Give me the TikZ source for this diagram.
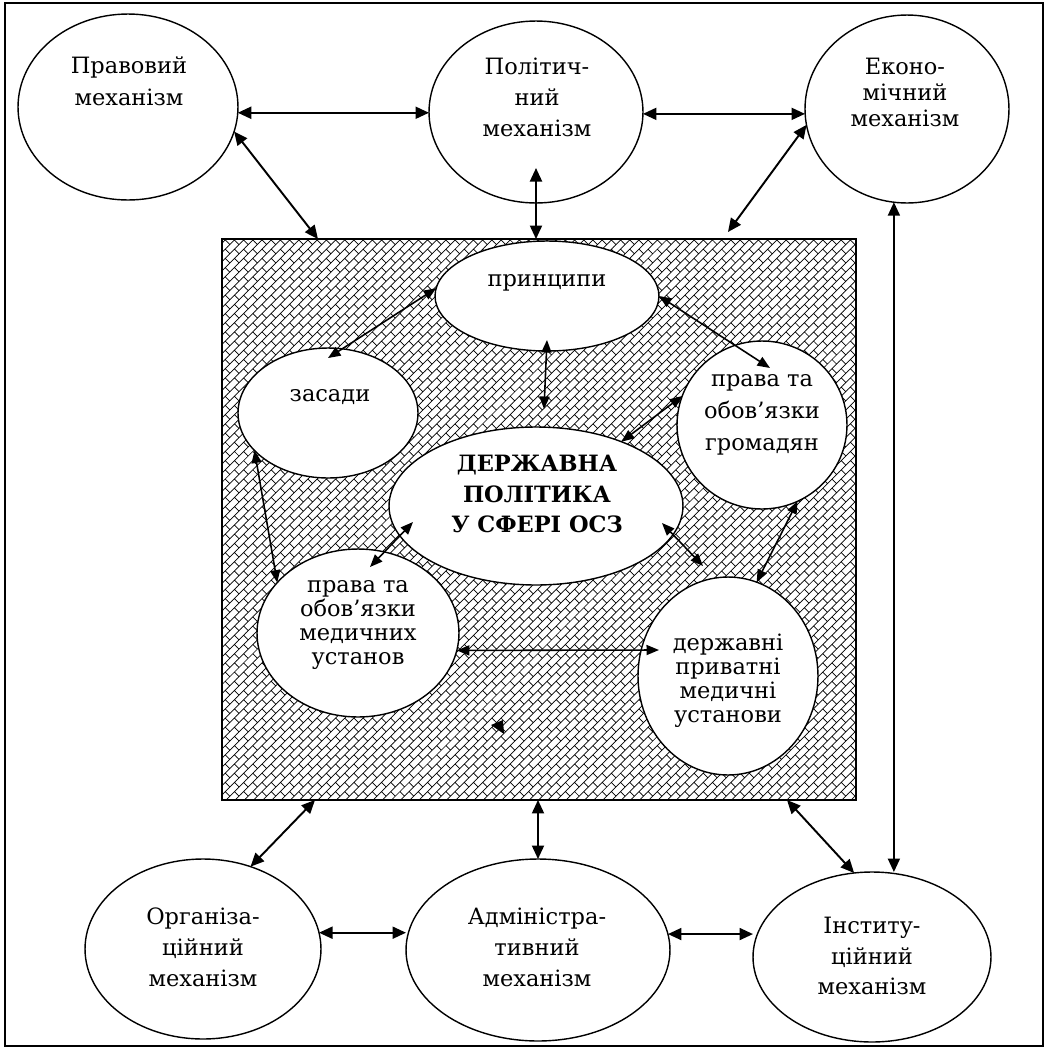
\documentclass[tikz,border=0pt]{standalone}
\usepackage{fontspec}
\setmainfont{DejaVu Serif}
\usetikzlibrary{arrows.meta,patterns.meta,calc,shapes.geometric}

\pgfdeclarepattern{
  name=diagbrick,
  type=uncolored,
  bottom left={\pgfpoint{-0.1pt}{-0.1pt}},
  top right={\pgfpoint{7.5pt}{7.5pt}},
  tile size={\pgfpoint{7.4pt}{7.4pt}},
  tile transformation={\pgftransformrotate{45}},
  code={
    \pgfsetlinewidth{0.4pt}
    \pgfpathmoveto{\pgfpoint{-0.1pt}{1.85pt}}\pgfpathlineto{\pgfpoint{7.5pt}{1.85pt}}
    \pgfpathmoveto{\pgfpoint{-0.1pt}{5.55pt}}\pgfpathlineto{\pgfpoint{7.5pt}{5.55pt}}
    \pgfpathmoveto{\pgfpoint{1.85pt}{1.85pt}}\pgfpathlineto{\pgfpoint{1.85pt}{5.55pt}}
    \pgfpathmoveto{\pgfpoint{5.55pt}{5.55pt}}\pgfpathlineto{\pgfpoint{5.55pt}{7.5pt}}
    \pgfpathmoveto{\pgfpoint{5.55pt}{-0.1pt}}\pgfpathlineto{\pgfpoint{5.55pt}{1.85pt}}
    \pgfusepath{stroke}
  }
}

\tikzset{
  ell/.style={ellipse, draw, fill=white, line width=0.8pt, inner sep=0pt, outer sep=0pt},
  lbl/.style={align=center, inner sep=0pt},
  arr/.style={{Triangle[length=0.27cm,width=0.24cm]}-{Triangle[length=0.27cm,width=0.24cm]}, line width=1.1pt},
  iarr/.style={{Triangle[length=0.25cm,width=0.2cm]}-{Triangle[length=0.25cm,width=0.2cm]}, line width=0.9pt},
}

\begin{document}
\begin{tikzpicture}[x=0.02cm, y=-0.02cm]
\useasboundingbox (0,0) rectangle (1047,1049);
\draw[line width=1.1pt] (5,3) rectangle (1043,1046);

% hatched field
\node[draw, line width=1.1pt, pattern=diagbrick, minimum width=12.68cm, minimum height=11.22cm, inner sep=0pt, outer sep=0pt] (field) at (539,519.5) {};

% outer ellipses
\node[ell, minimum width=4.4cm, minimum height=3.72cm] (prav) at (128,107) {};
\node[ell, minimum width=4.28cm, minimum height=3.64cm] (pol) at (536,112) {};
\node[ell, minimum width=4.08cm, minimum height=3.76cm] (ekon) at (907,109) {};
\node[ell, minimum width=4.72cm, minimum height=3.6cm] (org) at (203,949) {};
\node[ell, minimum width=5.28cm, minimum height=3.64cm] (adm) at (538,950) {};
\node[ell, minimum width=4.76cm, minimum height=3.4cm] (inst) at (872,957) {};

% inner ellipses
\node[ell, minimum width=4.48cm, minimum height=2.2cm] (princ) at (547,296) {};
\node[ell, minimum width=3.6cm, minimum height=2.6cm] (zas) at (328,413) {};
\node[ell, minimum width=5.88cm, minimum height=3.16cm] (derzh) at (536,506) {};
\node[ell, minimum width=3.4cm, minimum height=3.36cm] (grom) at (762,425) {};
\node[ell, minimum width=4.04cm, minimum height=3.36cm] (med) at (358,633) {};
\node[ell, minimum width=3.6cm, minimum height=3.96cm] (derzhpr) at (728,676) {};

% labels
\node[lbl, font=\fontsize{12.8}{18.2}\selectfont] (pravT) at (129,81) {Правовий\\механізм};
\node[lbl, font=\fontsize{12.8}{17.6}\selectfont] (polT) at (537,97) {Політич-\\ний\\механізм};
\node[lbl, font=\fontsize{12.8}{14.8}\selectfont] (ekonT) at (905,92) {Еконо-\\мічний\\механізм};
\node[lbl, font=\fontsize{12.8}{17.6}\selectfont] (orgT) at (203,947) {Організа-\\ційний\\механізм};
\node[lbl, font=\fontsize{12.8}{17.6}\selectfont] (admT) at (537,947) {Адміністра-\\тивний\\механізм};
\node[lbl, font=\fontsize{12.8}{17.6}\selectfont] (instT) at (872,956) {Інститу-\\ційний\\механізм};
\node[lbl, font=\fontsize{12.8}{17.6}\selectfont] (princT) at (547,283) {принципи};
\node[lbl, font=\fontsize{12.8}{17.6}\selectfont] (zasT) at (330,397) {засади};
\node[lbl, font=\fontsize{12.8}{17.6}\selectfont\bfseries] (derzhT) at (537,494) {ДЕРЖАВНА\\ПОЛІТИКА\\У СФЕРІ ОСЗ};
\node[lbl, font=\fontsize{12.8}{18.2}\selectfont] (gromT) at (762,415) {права та\\обов’язки\\громадян};
\node[lbl, font=\fontsize{12.8}{13.7}\selectfont] (medT) at (358,625) {права та\\обов’язки\\медичних\\установ};
\node[lbl, font=\fontsize{12.8}{13.7}\selectfont] (derzhprT) at (728,681) {державні\\приватні\\медичні\\установи};

% end points on the field border
\coordinate (f1) at (318,239);
\coordinate (f2) at (728,232);
\coordinate (f3) at (315,800);
\coordinate (f4) at (787,800);

% outer connectors
\draw[arr] (prav.-3) -- (prav.-3 -| pol.west);
\draw[arr] (pol.-1) -- (pol.-1 -| ekon.west);
\draw[arr] (prav.-13) -- (f1);
\draw[arr] ($(pol.center)+(0,56)$) -- (pol.center |- field.north);
\draw[arr] (ekon.189) -- (f2);
\draw[arr] (ekon.-98.6) -- (ekon.-98.6 |- inst.north);
\draw[arr] (org.60) -- (f3);
\draw[arr] (org.8) -- (org.8 -| adm.west);
\draw[arr] (adm.north) -- (adm.north |- field.south);
\draw[arr] (adm.7.5) -- (adm.7.5 -| inst.west);
\draw[arr] (f4) -- (inst.102);

% inner connectors
\draw[iarr] (princ.176) -- ($(zas.north)+(0,10)$);
\draw[iarr] ($(princ.center)+(0,44)$) -- ($(derzh.north)+(8,-18)$);
\draw[iarr] (princ.east) -- ($(grom.center)+(8,-57)$);
\draw[iarr] (derzh.37) -- (grom.160);
\draw[iarr] ($(derzh.center)+(126,17)$) -- ($(derzhpr.center)+(-25,-110)$);
\draw[iarr] (grom.-65) -- (derzhpr.73);
\draw[iarr] (zas.207) -- (med.148);
\draw[iarr] ($(derzh.center)+(-123,16)$) -- ($(med.center)+(12,-66)$);
\draw[iarr] (med.-10) -- ($(derzhpr.center)+(-69,-26)$);
\fill (491,725) -- (503,720) -- (504,734) -- cycle;
\end{tikzpicture}
\end{document}
